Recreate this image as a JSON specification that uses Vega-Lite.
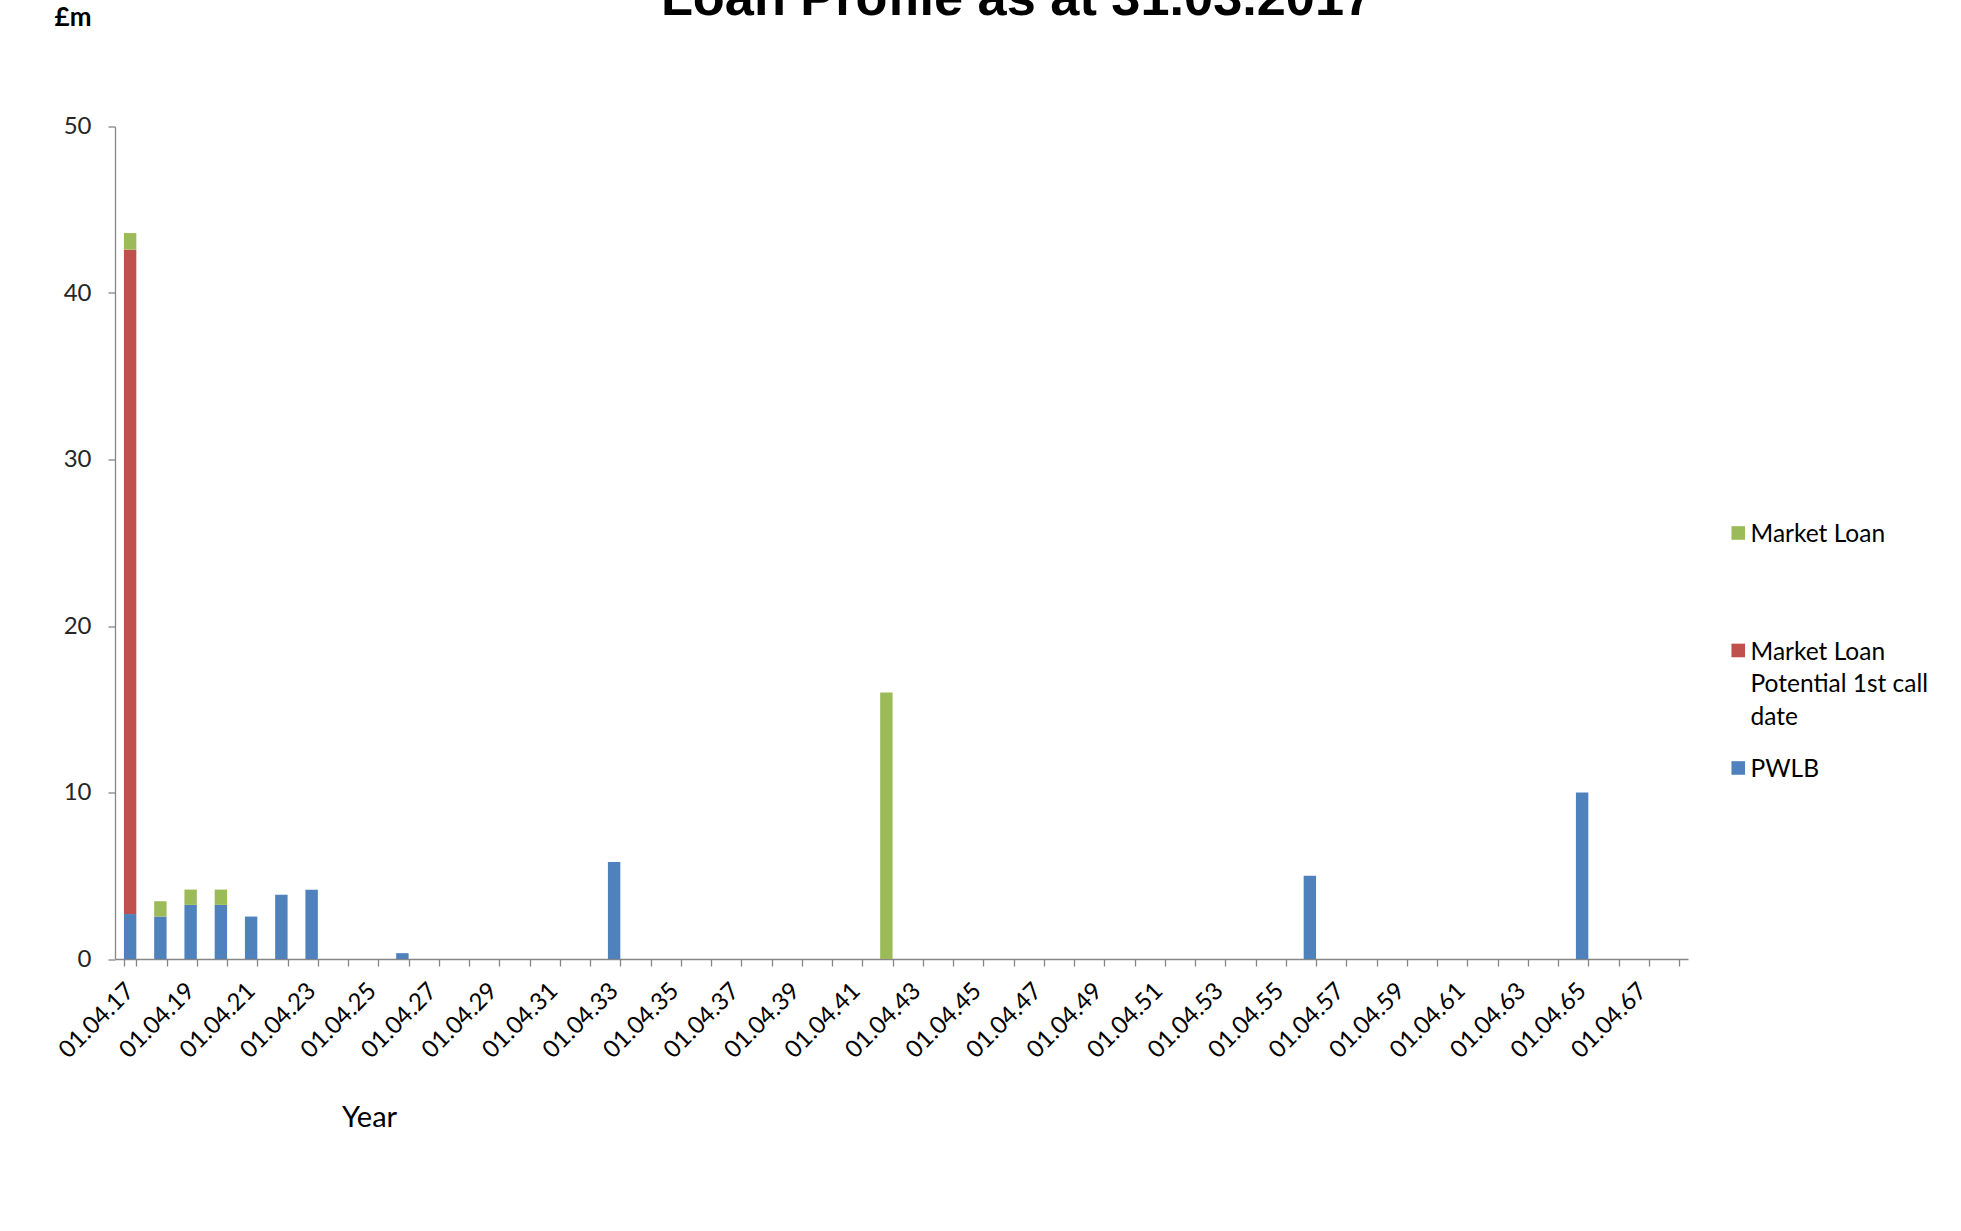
{
  "$schema": "https://vega.github.io/schema/vega-lite/v6.json",
  "autosize": {"type": "none"},
  "width": 1573,
  "height": 832.5,
  "padding": {"left": 115, "top": 126.5, "right": 273, "bottom": 272},
  "background": "white",
  "title": {
    "text": "Loan Profile as at 31.03.2017",
    "font": "Liberation Sans",
    "fontSize": 52.3,
    "fontWeight": "bold",
    "color": "#000000",
    "anchor": "middle",
    "frame": "group",
    "baseline": "alphabetic",
    "offset": -63.5,
    "dx": 115.5
  },
  "data": {
    "values": [
      {"year": "01.04.17", "PWLB": 2.7, "Market Loan Potential 1st call date": 39.9, "Market Loan": 1.0},
      {"year": "01.04.18", "PWLB": 2.55, "Market Loan Potential 1st call date": 0, "Market Loan": 0.92},
      {"year": "01.04.19", "PWLB": 3.25, "Market Loan Potential 1st call date": 0, "Market Loan": 0.92},
      {"year": "01.04.20", "PWLB": 3.25, "Market Loan Potential 1st call date": 0, "Market Loan": 0.92},
      {"year": "01.04.21", "PWLB": 2.55, "Market Loan Potential 1st call date": 0, "Market Loan": 0},
      {"year": "01.04.22", "PWLB": 3.86, "Market Loan Potential 1st call date": 0, "Market Loan": 0},
      {"year": "01.04.23", "PWLB": 4.16, "Market Loan Potential 1st call date": 0, "Market Loan": 0},
      {"year": "01.04.24", "PWLB": 0, "Market Loan Potential 1st call date": 0, "Market Loan": 0},
      {"year": "01.04.25", "PWLB": 0, "Market Loan Potential 1st call date": 0, "Market Loan": 0},
      {"year": "01.04.26", "PWLB": 0.35, "Market Loan Potential 1st call date": 0, "Market Loan": 0},
      {"year": "01.04.27", "PWLB": 0, "Market Loan Potential 1st call date": 0, "Market Loan": 0},
      {"year": "01.04.28", "PWLB": 0, "Market Loan Potential 1st call date": 0, "Market Loan": 0},
      {"year": "01.04.29", "PWLB": 0, "Market Loan Potential 1st call date": 0, "Market Loan": 0},
      {"year": "01.04.30", "PWLB": 0, "Market Loan Potential 1st call date": 0, "Market Loan": 0},
      {"year": "01.04.31", "PWLB": 0, "Market Loan Potential 1st call date": 0, "Market Loan": 0},
      {"year": "01.04.32", "PWLB": 0, "Market Loan Potential 1st call date": 0, "Market Loan": 0},
      {"year": "01.04.33", "PWLB": 5.83, "Market Loan Potential 1st call date": 0, "Market Loan": 0},
      {"year": "01.04.34", "PWLB": 0, "Market Loan Potential 1st call date": 0, "Market Loan": 0},
      {"year": "01.04.35", "PWLB": 0, "Market Loan Potential 1st call date": 0, "Market Loan": 0},
      {"year": "01.04.36", "PWLB": 0, "Market Loan Potential 1st call date": 0, "Market Loan": 0},
      {"year": "01.04.37", "PWLB": 0, "Market Loan Potential 1st call date": 0, "Market Loan": 0},
      {"year": "01.04.38", "PWLB": 0, "Market Loan Potential 1st call date": 0, "Market Loan": 0},
      {"year": "01.04.39", "PWLB": 0, "Market Loan Potential 1st call date": 0, "Market Loan": 0},
      {"year": "01.04.40", "PWLB": 0, "Market Loan Potential 1st call date": 0, "Market Loan": 0},
      {"year": "01.04.41", "PWLB": 0, "Market Loan Potential 1st call date": 0, "Market Loan": 0},
      {"year": "01.04.42", "PWLB": 0, "Market Loan Potential 1st call date": 0, "Market Loan": 16.0},
      {"year": "01.04.43", "PWLB": 0, "Market Loan Potential 1st call date": 0, "Market Loan": 0},
      {"year": "01.04.44", "PWLB": 0, "Market Loan Potential 1st call date": 0, "Market Loan": 0},
      {"year": "01.04.45", "PWLB": 0, "Market Loan Potential 1st call date": 0, "Market Loan": 0},
      {"year": "01.04.46", "PWLB": 0, "Market Loan Potential 1st call date": 0, "Market Loan": 0},
      {"year": "01.04.47", "PWLB": 0, "Market Loan Potential 1st call date": 0, "Market Loan": 0},
      {"year": "01.04.48", "PWLB": 0, "Market Loan Potential 1st call date": 0, "Market Loan": 0},
      {"year": "01.04.49", "PWLB": 0, "Market Loan Potential 1st call date": 0, "Market Loan": 0},
      {"year": "01.04.50", "PWLB": 0, "Market Loan Potential 1st call date": 0, "Market Loan": 0},
      {"year": "01.04.51", "PWLB": 0, "Market Loan Potential 1st call date": 0, "Market Loan": 0},
      {"year": "01.04.52", "PWLB": 0, "Market Loan Potential 1st call date": 0, "Market Loan": 0},
      {"year": "01.04.53", "PWLB": 0, "Market Loan Potential 1st call date": 0, "Market Loan": 0},
      {"year": "01.04.54", "PWLB": 0, "Market Loan Potential 1st call date": 0, "Market Loan": 0},
      {"year": "01.04.55", "PWLB": 0, "Market Loan Potential 1st call date": 0, "Market Loan": 0},
      {"year": "01.04.56", "PWLB": 5.0, "Market Loan Potential 1st call date": 0, "Market Loan": 0},
      {"year": "01.04.57", "PWLB": 0, "Market Loan Potential 1st call date": 0, "Market Loan": 0},
      {"year": "01.04.58", "PWLB": 0, "Market Loan Potential 1st call date": 0, "Market Loan": 0},
      {"year": "01.04.59", "PWLB": 0, "Market Loan Potential 1st call date": 0, "Market Loan": 0},
      {"year": "01.04.60", "PWLB": 0, "Market Loan Potential 1st call date": 0, "Market Loan": 0},
      {"year": "01.04.61", "PWLB": 0, "Market Loan Potential 1st call date": 0, "Market Loan": 0},
      {"year": "01.04.62", "PWLB": 0, "Market Loan Potential 1st call date": 0, "Market Loan": 0},
      {"year": "01.04.63", "PWLB": 0, "Market Loan Potential 1st call date": 0, "Market Loan": 0},
      {"year": "01.04.64", "PWLB": 0, "Market Loan Potential 1st call date": 0, "Market Loan": 0},
      {"year": "01.04.65", "PWLB": 10.0, "Market Loan Potential 1st call date": 0, "Market Loan": 0},
      {"year": "01.04.66", "PWLB": 0, "Market Loan Potential 1st call date": 0, "Market Loan": 0},
      {"year": "01.04.67", "PWLB": 0, "Market Loan Potential 1st call date": 0, "Market Loan": 0},
      {"year": "01.04.68", "PWLB": 0, "Market Loan Potential 1st call date": 0, "Market Loan": 0}
    ]
  },
  "transform": [
    {"fold": ["PWLB", "Market Loan Potential 1st call date", "Market Loan"], "as": ["series", "value"]}
  ],
  "mark": {"type": "bar"},
  "encoding": {
    "x": {
      "field": "year",
      "type": "nominal",
      "sort": null,
      "scale": {"paddingInner": 0.59, "paddingOuter": 0.295},
      "axis": {
        "title": "Year",
        "titleFont": "Lato",
        "titleFontSize": 29,
        "titleFontWeight": "normal",
        "titleColor": "#000000",
        "titleX": 254,
        "titleY": 167.7,
        "titleAlign": "center",
        "titleBaseline": "alphabetic",
        "labelAngle": -45,
        "labelAlign": "right",
        "labelBaseline": "middle",
        "labelFont": "Lato",
        "labelFontSize": 24,
        "labelColor": "#000000",
        "labelPadding": 21,
        "labelOverlap": false,
        "labelBound": false,
        "labelExpr": "toNumber(slice(datum.label, 6)) % 2 == 1 ? datum.label : ''",
        "tickBand": "extent",
        "tickSize": 7,
        "tickColor": "#868686",
        "tickWidth": 1.3,
        "domainColor": "#868686",
        "domainWidth": 1.3,
        "grid": false
      }
    },
    "y": {
      "field": "value",
      "type": "quantitative",
      "stack": "zero",
      "scale": {"domain": [0, 50], "nice": false},
      "axis": {
        "title": "£m",
        "titleAngle": 0,
        "titleX": -42.5,
        "titleY": -101.5,
        "titleAlign": "center",
        "titleBaseline": "alphabetic",
        "titleFont": "Lato",
        "titleFontSize": 26,
        "titleFontWeight": "bold",
        "titleColor": "#000000",
        "values": [0, 10, 20, 30, 40, 50],
        "labelFont": "Lato",
        "labelFontSize": 24,
        "labelColor": "#262626",
        "labelPadding": 17,
        "tickSize": 7,
        "tickColor": "#868686",
        "tickWidth": 1.3,
        "domainColor": "#868686",
        "domainWidth": 1.3,
        "grid": false
      }
    },
    "color": {
      "field": "series",
      "type": "nominal",
      "scale": {
        "domain": ["Market Loan", "Market Loan Potential 1st call date", "PWLB"],
        "range": ["#9BBB59", "#C0504D", "#4F81BD"]
      },
      "legend": {
        "title": null,
        "orient": "none",
        "legendX": 1611,
        "legendY": 384.5,
        "padding": 0,
        "symbolType": "M-1,0.43H1V2.43H-1Z",
        "symbolSize": 185,
        "symbolStrokeWidth": 0,
        "labelFont": "Lato",
        "labelFontSize": 24.5,
        "labelColor": "#000000",
        "labelBaseline": "top",
        "labelOffset": 0,
        "labelLimit": 400,
        "rowPadding": 16.5,
        "labelExpr": "datum.label == 'Market Loan Potential 1st call date' ? ['Market Loan', 'Potential 1st call', 'date'] : datum.label == 'Market Loan' ? ['Market Loan', '', ''] : datum.label"
      }
    },
    "order": {"field": "series", "sort": "descending"}
  },
  "config": {
    "view": {"stroke": null},
    "style": {"guide-label": {"lineHeight": 32.5}}
  }
}
